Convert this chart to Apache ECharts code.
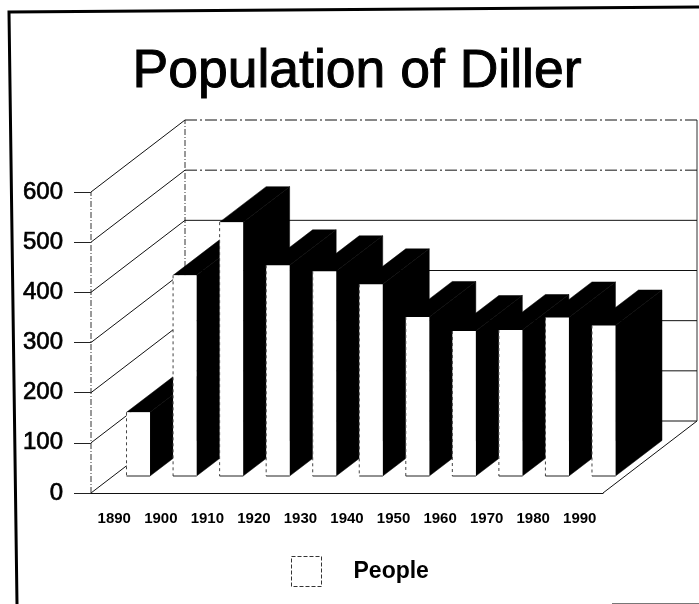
<!DOCTYPE html>
<html>
<head>
<meta charset="utf-8">
<style>html,body{margin:0;padding:0;background:#fff}#c{width:699px;height:604px}</style>
<script src="https://cdn.jsdelivr.net/npm/echarts@6/dist/echarts.min.js"></script>
</head>
<body>
<div id="c"></div>
<script>
const years = ['1890','1900','1910','1920','1930','1940','1950','1960','1970','1980','1990'];
const people = [127, 400, 506, 420, 408, 382, 317, 289, 291, 316, 300];
const valueTicks = [0, 100, 200, 300, 400, 500, 600];

const FONT = '"Liberation Sans", Arial, sans-serif';
const WALL_DX = 94, WALL_DY = -72, WALL_RIGHT = 697;
const BAR_SHIFT_X = 24, BAR_SHIFT_Y = -17, BAR_DX = 46.5, BAR_DY = -35.5, BAR_W = 23.5;

function line(x1, y1, x2, y2, dash, color) {
  return { type: 'line', shape: { x1, y1, x2, y2 }, silent: true,
    style: { stroke: color || '#111', lineWidth: 1, lineDash: dash || null, fill: null } };
}
function poly(points, fill) {
  return { type: 'polygon', shape: { points }, silent: true, style: { fill, stroke: fill, lineWidth: 0.5 } };
}

function renderWall(params, api) {
  const v = api.value(1);
  const p = api.coord([0, v]);
  const cs = params.coordSys;
  const x0 = cs.x, y = p[1], bx = x0 + WALL_DX, by = y + WALL_DY;
  const children = [
    line(x0, y, bx, by),
    line(bx, by, WALL_RIGHT, by, v >= 500 ? [12, 3, 2, 3] : null)
  ];
  if (v === 0) {
    const fr = cs.x + cs.width;
    children.push(line(fr, y, WALL_RIGHT, by));
    const top = api.coord([0, valueTicks[valueTicks.length - 1]])[1];
    children.push(line(bx, by, bx, top + WALL_DY, [6, 2, 1, 2], '#333'));
    children.push(line(x0, y, x0, top, [6, 2, 1, 2], '#333'));
    children.push(line(WALL_RIGHT, by, WALL_RIGHT, top + WALL_DY, null, '#333'));
  }
  return { type: 'group', children };
}

function renderBar(params, api) {
  const base = api.coord([api.value(0), 0]);
  const top = api.coord([api.value(0), api.value(1)]);
  const l = base[0] - BAR_W / 2 + BAR_SHIFT_X, r = l + BAR_W;
  const b = base[1] + BAR_SHIFT_Y, t = top[1] + BAR_SHIFT_Y;
  return { type: 'group', children: [
    poly([[r, t], [r + BAR_DX, t + BAR_DY], [r + BAR_DX, b + BAR_DY], [r, b]], '#000'),
    poly([[l, t], [l + BAR_DX, t + BAR_DY], [r + BAR_DX, t + BAR_DY], [r, t]], '#000'),
    { type: 'rect', shape: { x: l, y: t, width: BAR_W, height: b - t }, silent: true, style: { fill: '#fff' } },
    line(l, t, l, b, [3, 3], '#444'),
    line(l, b, r, b, null, '#222')
  ] };
}

const chart = echarts.init(document.getElementById('c'), null, { renderer: 'canvas' });
chart.setOption({
  animation: false,
  backgroundColor: '#fff',
  title: {
    text: 'Population of Diller', left: 352, top: 40, textAlign: 'center',
    textStyle: { fontFamily: FONT, fontSize: 53.5, fontWeight: 'normal', color: '#000',
      textBorderColor: '#000', textBorderWidth: 1 }
  },
  legend: {
    left: 286, top: 551, itemWidth: 30, itemHeight: 30,
    data: [{ name: 'People', icon: 'rect',
      itemStyle: { color: '#fff', borderColor: '#333', borderWidth: 1, borderType: 'dashed' } }],
    textStyle: { fontFamily: FONT, fontSize: 23, fontWeight: 'bold', color: '#000', padding: [3, 0, 0, 27] }
  },
  grid: { left: 91, right: 96, top: 192, bottom: 111 },
  xAxis: {
    type: 'category', data: years,
    axisLine: { lineStyle: { color: '#111', width: 1 } },
    axisTick: { alignWithLabel: true, length: 6, lineStyle: { color: '#222' } },
    axisLabel: { fontFamily: FONT, fontSize: 15, fontWeight: 'bold', color: '#000', margin: 18, interval: 0 },
    splitLine: { show: false }
  },
  yAxis: {
    type: 'value', min: 0, max: 600, interval: 100,
    axisLine: { show: false },
    axisTick: { show: true, length: 17, lineStyle: { color: '#222' } },
    axisLabel: { fontFamily: FONT, fontSize: 24, color: '#000', margin: 28,
      textBorderColor: '#000', textBorderWidth: 0.7 },
    splitLine: { show: false }
  },
  series: [
    { name: 'Wall', type: 'custom', silent: true, clip: false, z: 1,
      encode: { x: 0, y: 1 }, data: valueTicks.map(v => [0, v]), renderItem: renderWall },
    { name: 'People', type: 'custom', clip: false, z: 2, itemStyle: { color: '#fff' },
      encode: { x: 0, y: 1 }, data: people.map((v, i) => [i, v]), renderItem: renderBar }
  ],
  graphic: [
    { type: 'polyline', silent: true, shape: { points: [[17, 604], [9, 12], [699, 7]] },
      style: { stroke: '#000', lineWidth: 3, fill: null } },
    { type: 'line', silent: true, shape: { x1: 612, y1: 603.5, x2: 699, y2: 603.5 },
      style: { stroke: '#777', lineWidth: 1 } }
  ]
});
</script>
</body>
</html>
